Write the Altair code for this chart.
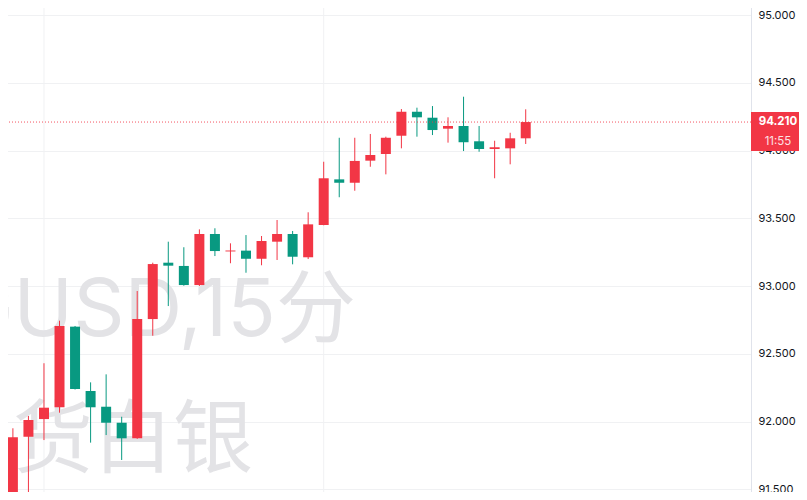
import altair as alt
import numpy as np
import pandas as pd

# ---- data (15-minute candles, XAGUSD) ----
opens = [91.35, 91.888, 92.018, 92.105, 92.700, 92.225, 92.109, 91.991, 91.876, 92.756,
         93.172, 93.148, 93.007, 93.384, 93.255, 93.261, 93.201, 93.327, 93.384, 93.212,
         93.450, 93.787, 93.762, 93.925, 93.974, 94.109, 94.286, 94.242, 94.161, 94.181,
         94.068, 94.011, 94.016, 94.090]
highs = [91.950, 92.041, 92.430, 92.744, 92.705, 92.289, 92.348, 92.035, 92.963, 93.172,
         93.327, 93.286, 93.418, 93.426, 93.315, 93.376, 93.369, 93.487, 93.406, 93.544,
         93.917, 94.094, 94.094, 94.122, 94.102, 94.306, 94.316, 94.328, 94.245, 94.397,
         94.181, 94.072, 94.131, 94.304]
lows = [91.30, 91.35, 91.863, 92.065, 92.236, 91.844, 91.900, 91.716, 91.872, 92.633,
        92.852, 93.002, 93.000, 93.221, 93.168, 93.098, 93.153, 93.192, 93.160, 93.199,
        93.448, 93.655, 93.703, 93.880, 93.824, 94.016, 94.102, 94.114, 94.058, 93.996,
        93.991, 93.795, 93.898, 94.048]
closes = [91.883, 92.011, 92.102, 92.705, 92.240, 92.105, 91.991, 91.876, 92.756, 93.162,
          93.150, 93.007, 93.384, 93.258, 93.262, 93.201, 93.332, 93.384, 93.216, 93.455,
          93.795, 93.762, 93.923, 93.967, 94.094, 94.286, 94.245, 94.151, 94.181, 94.061,
          94.011, 94.024, 94.090, 94.210]
y_ticks = [91.5, 92.0, 92.5, 93.0, 93.5, 94.0, 94.5, 95.0]
grid_x = [2, 20]
last_price = [94.210]
countdown = ["11:55"]
watermark_line1 = ["XAGUSD,15分"]
watermark_line2 = ["现货白银"]

UP = "#F23645"
DOWN = "#089981"
GRID = "#f0f1f3"

df = pd.DataFrame({"i": np.arange(len(opens)), "open": opens, "high": highs,
                   "low": lows, "close": closes})
df["dir"] = np.where(df["close"] >= df["open"], "up", "down")

xs = alt.Scale(domain=[-0.508, 47.175], nice=False, zero=False)
ys = alt.Scale(domain=[91.4207, 95.1107], nice=False, zero=False)
yax = alt.Axis(orient="right", values=y_ticks, format=".3f", title=None, ticks=False,
               domain=True, domainColor="#e0e3eb", grid=True, gridColor=GRID,
               labelFont="Inter", labelFontSize=11, labelColor="#131722",
               labelPadding=7, labelOverlap=False, labelBound=False, labelFlush=False)
col = alt.Color("dir:N", scale=alt.Scale(domain=["up", "down"], range=[UP, DOWN]), legend=None)
X = alt.X("i:Q", scale=xs, axis=None)

vgrid = alt.Chart(pd.DataFrame({"g": grid_x})).mark_rule(color=GRID, strokeWidth=1).encode(
    x=alt.X("g:Q", scale=xs, axis=None))

wm_font = "Inter, 'Noto Sans CJK SC'"
wm1 = alt.Chart(pd.DataFrame({"t": watermark_line1})).mark_text(
    align="right", baseline="alphabetic", fontSize=80, font=wm_font, color="#e3e3e6").encode(
    text="t:N", x=alt.value(356), y=alt.value(336))
wm2 = alt.Chart(pd.DataFrame({"t": watermark_line2})).mark_text(
    align="right", baseline="alphabetic", fontSize=80, font=wm_font, color="#e3e3e6").encode(
    text="t:N", x=alt.value(253), y=alt.value(466))

base = alt.Chart(df)
wicks = base.mark_rule(strokeWidth=1).encode(
    x=X, y=alt.Y("low:Q", scale=ys, axis=yax), y2="high:Q", color=col)
bodies = base.mark_bar(size=10).encode(
    x=X, y=alt.Y("open:Q", scale=ys, axis=yax), y2="close:Q", color=col)

pdf = pd.DataFrame({"p": last_price, "c": countdown})
pline = alt.Chart(pdf).mark_rule(color=UP, strokeDash=[1, 2], strokeWidth=1, opacity=0.85).encode(
    y=alt.Y("p:Q", scale=ys, axis=yax))
pbox = alt.Chart(pdf).mark_rect(color=UP).encode(
    x=alt.value(751), x2=alt.value(805), y=alt.value(112), y2=alt.value(151))
ptxt = alt.Chart(pdf).mark_text(font="Inter", fontSize=11.5, fontWeight="bold", color="white",
                                align="center", baseline="middle").encode(
    text=alt.Text("p:Q", format=".3f"), x=alt.value(778), y=alt.value(122))
ctxt = alt.Chart(pdf).mark_text(font="Inter", fontSize=11.5, color="white", opacity=0.85,
                                align="center", baseline="middle").encode(
    text="c:N", x=alt.value(778), y=alt.value(142))

chart = alt.layer(vgrid, wm1, wm2, wicks, bodies, pline, pbox, ptxt, ctxt).properties(
    width=751, height=500,
    padding={"left": -8, "top": -8, "right": 48, "bottom": -8},
    autosize=alt.AutoSizeParams(type="none"),
    background="white",
).configure_view(stroke=None)

chart.save("out.html", embed_options={"renderer": "svg", "actions": False})
